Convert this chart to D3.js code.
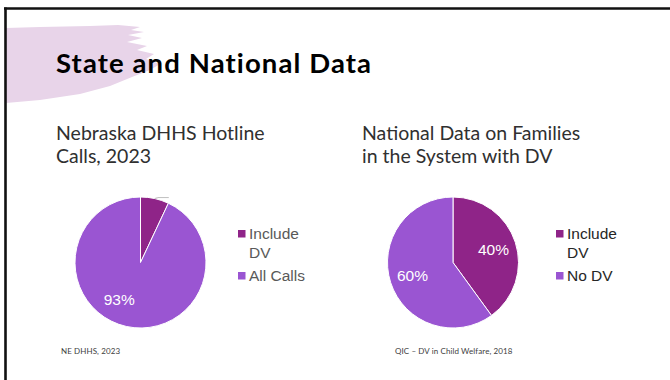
<!DOCTYPE html>
<html>
<head>
<meta charset="utf-8">
<script src="https://cdn.jsdelivr.net/npm/d3@7"></script>
<style>
  body { margin: 0; background: #fff; }
  svg { display: block; }
</style>
</head>
<body>
<div class="container"></div>
<script>
const WIDTH = 670;
const HEIGHT = 380;

// data
const stateCategories = ["Include DV", "All Calls"];
const stateValues = [7, 93];
const stateLegend = [["Include", "DV"], ["All Calls"]];

const nationalCategories = ["Include DV", "No DV"];
const nationalValues = [40, 60];
const nationalLegend = [["Include", "DV"], ["No DV"]];

const COLORS = ["#8f2488", "#9a55d2"];

var svg = d3.select(".container").append("svg")
    .attr("width", WIDTH)
    .attr("height", HEIGHT);

// brush stroke behind the title
svg.append("path")
    .attr("d", "M6,28 L40,27 L90,26 L118,25 L140,27 L131,30 L144,32 L128,35 L142,38 L127,42 L147,46 " +
               "L137,50 L154,54 L146,59 L160,64 L150,70 L132,77 L110,86 L80,94 L40,100 L6,103 Z")
    .attr("fill", "#e8d4e9");

// slide frame
svg.append("line").attr("x1", 4).attr("x2", WIDTH).attr("y1", 8.5).attr("y2", 8.5)
    .attr("stroke", "#111").attr("stroke-width", 2.6);
svg.append("line").attr("x1", 5.5).attr("x2", 5.5).attr("y1", 7.5).attr("y2", HEIGHT)
    .attr("stroke", "#111").attr("stroke-width", 2.6);

svg.append("text")
    .attr("x", 56).attr("y", 73)
    .attr("font-family", "Lato, 'Liberation Sans', sans-serif")
    .attr("font-weight", 700)
    .attr("font-size", 27.5)
    .attr("letter-spacing", 1.1)
    .attr("fill", "#000")
    .text("State and National Data");

var subtitle = function(x, lines){
    var t = svg.append("text")
        .attr("font-family", "Lato, 'Liberation Sans', sans-serif")
        .attr("font-size", 19.5)
        .attr("fill", "#303030");
    lines.forEach(function(l, i){
        t.append("tspan").attr("x", x).attr("y", 140 + i * 23).text(l);
    });
};
subtitle(56, ["Nebraska DHHS Hotline", "Calls, 2023"]);
subtitle(362, ["National Data on Families", "in the System with DV"]);

var footnote = function(x, txt){
    svg.append("text")
        .attr("x", x).attr("y", 354)
        .attr("font-family", "Lato, 'Liberation Sans', sans-serif")
        .attr("font-size", 8)
        .attr("letter-spacing", 0.1)
        .attr("fill", "#404040")
        .text(txt);
};
footnote(61, "NE DHHS, 2023");
footnote(395, "QIC \u2013 DV in Child Welfare, 2018");

var drawPie = function(opts){
    var color = d3.scaleOrdinal().domain(opts.categories).range(COLORS);
    var data = opts.categories.map(function(c, i){ return {cat: c, value: opts.values[i]}; });
    var pie = d3.pie().sort(null).value(function(d){ return d.value; });
    var arcs = pie(data);
    var arc = d3.arc().innerRadius(0).outerRadius(opts.r);
    var labelArc = d3.arc().innerRadius(opts.r * 0.65).outerRadius(opts.r * 0.65);

    var g = svg.append("g").attr("transform", "translate(" + opts.cx + "," + opts.cy + ")");
    g.selectAll("path.slice").data(arcs).enter().append("path")
        .attr("class", "slice")
        .attr("d", arc)
        .attr("fill", function(d){ return color(d.data.cat); })
        .attr("stroke", "#fff")
        .attr("stroke-width", 1);

    arcs.forEach(function(d, i){
        if (opts.hidden.indexOf(i) >= 0) {
            // small slice: only the leader line remains visible
            var mid = (d.startAngle + d.endAngle) / 2;
            var px = Math.sin(mid) * opts.r, py = -Math.cos(mid) * opts.r;
            g.append("path")
                .attr("d", "M" + px + "," + py + " L" + (px + 3) + "," + (py - 1) + " L" + (px + 14) + "," + (py - 1))
                .attr("fill", "none").attr("stroke", "#bfbfbf").attr("stroke-width", 1);
            return;
        }
        var c = labelArc.centroid(d);
        var off = opts.labelOffset[i] || [0, 0];
        g.append("text")
            .attr("x", c[0] + off[0]).attr("y", c[1] + off[1])
            .attr("text-anchor", "middle")
            .attr("dy", "0.35em")
            .attr("font-family", "'Liberation Sans', Arial, sans-serif")
            .attr("font-size", 15.5)
            .attr("fill", "#fff")
            .text(d3.format(".0f")(d.value) + "%");
    });

    var lg = svg.append("g").attr("transform", "translate(" + opts.lx + ",230)");
    var y = 0;
    opts.legend.forEach(function(lines, i){
        lg.append("rect").attr("x", 0).attr("y", y).attr("width", 7.5).attr("height", 7.5)
            .attr("fill", color(opts.categories[i]));
        var t = lg.append("text")
            .attr("font-family", "'Liberation Sans', Arial, sans-serif")
            .attr("font-size", 15.5)
            .attr("fill", opts.legendColor);
        lines.forEach(function(l, j){
            t.append("tspan").attr("x", 11).attr("y", y + 8.5 + j * 19).text(l);
        });
        y += lines.length * 19 + 4;
    });
};

drawPie({cx: 140.5, cy: 262.5, r: 65.5, categories: stateCategories, values: stateValues,
         legend: stateLegend, lx: 238, legendColor: "#595959", hidden: [0], labelOffset: {1: [-12, -4]}});
drawPie({cx: 453, cy: 262.5, r: 65.5, categories: nationalCategories, values: nationalValues,
         legend: nationalLegend, lx: 556, legendColor: "#262626", hidden: [], labelOffset: {}});
</script>
</body>
</html>
